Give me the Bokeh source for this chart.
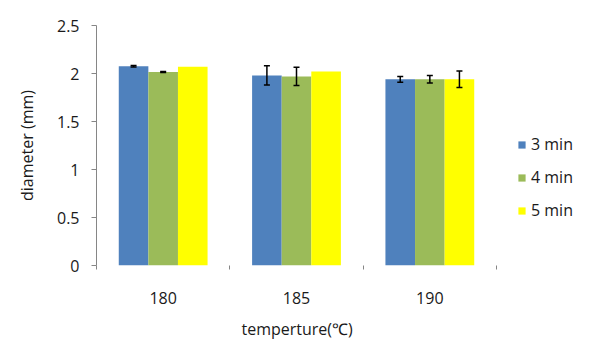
from bokeh.plotting import figure
from bokeh.models import (ColumnDataSource, Range1d, FixedTicker, CustomJSTickFormatter,
                          Whisker, TeeHead, Legend, LegendItem, Title)
from bokeh.transform import dodge
from bokeh.embed import file_html
from bokeh.resources import INLINE

categories = ["180", "185", "190"]
series = ["3 min", "4 min", "5 min"]
colors = ["#4f81bd", "#9bbb59", "#ffff00"]
vals_3min = [2.075, 1.98, 1.94]
vals_4min = [2.015, 1.97, 1.94]
vals_5min = [2.07, 2.02, 1.94]
err_3min = [0.008, 0.10, 0.03]
err_4min = [0.005, 0.095, 0.04]
err_5min = [0.0, 0.0, 0.085]
y_ticks = [0, 0.5, 1, 1.5, 2, 2.5]
x_title = "temperture(℃)"
y_title = "diameter (mm)"

FONT = "Open Sans"
TXT = "#1a1a1a"
AX = "#868686"

values = [vals_3min, vals_4min, vals_5min]
errors = [err_3min, err_4min, err_5min]
centers = [i + 0.5 for i in range(len(categories))]
bar_w = 0.222
offsets = [-bar_w, 0.0, bar_w]

# frame spans to the right edge so the legend can sit beside the categories;
# the category part occupies 400 of the 504 px
x_end = len(categories) * 504 / 400

p = figure(width=600, height=348, output_backend="svg", toolbar_location=None,
           x_range=Range1d(0, x_end), y_range=Range1d(0, 2.5),
           min_border_left=96, min_border_right=0, min_border_top=25, min_border_bottom=78)
p.outline_line_color = None
p.xgrid.grid_line_color = None
p.ygrid.grid_line_color = None
p.background_fill_color = "white"
p.border_fill_color = "white"

items = []
for s, col, v, e, off in zip(series, colors, values, errors, offsets):
    src = ColumnDataSource(dict(x=centers, top=v, cat=categories))
    r = p.vbar(x=dodge("x", off), top="top", width=bar_w, source=src,
               fill_color=col, line_color=None)
    items.append(LegendItem(label=s, renderers=[r]))
    keep = [i for i, ee in enumerate(e) if ee > 0]
    if keep:
        wsrc = ColumnDataSource(dict(
            x=[centers[i] for i in keep],
            upper=[v[i] + e[i] for i in keep],
            lower=[v[i] - e[i] for i in keep]))
        w = Whisker(source=wsrc, base=dodge("x", off), upper="upper", lower="lower",
                    line_color="black", line_width=1.5, level="annotation",
                    upper_head=TeeHead(size=6, line_color="black", line_width=1.5),
                    lower_head=TeeHead(size=6, line_color="black", line_width=1.5))
        p.add_layout(w)

# x axis
xa = p.xaxis[0]
xa.ticker = FixedTicker(ticks=centers, minor_ticks=list(range(len(categories) + 1)))
xa.major_label_overrides = {c: lab for c, lab in zip(centers, categories)}
xa.major_tick_line_color = None
xa.major_tick_out = 0
xa.major_tick_in = 0
xa.minor_tick_line_color = AX
xa.minor_tick_out = 4
xa.minor_tick_in = 0
xa.axis_line_color = None
xa.major_label_standoff = 22
xa.major_label_text_font = FONT
xa.major_label_text_font_size = "16px"
xa.major_label_text_color = TXT

# x title under the category span (frame also holds the legend area)
p.add_layout(Title(text=x_title, align="left", offset=145, standoff=18,
                   text_font=FONT, text_font_size="16px", text_font_style="normal",
                   text_color=TXT), "below")

ya = p.yaxis[0]
ya.ticker = FixedTicker(ticks=y_ticks, minor_ticks=[])
ya.formatter = CustomJSTickFormatter(code="return tick.toString();")
ya.axis_line_color = AX
ya.major_tick_line_color = AX
ya.major_tick_out = 5
ya.major_tick_in = 0
ya.minor_tick_line_color = None
ya.major_label_standoff = 12
ya.major_label_text_font = FONT
ya.major_label_text_font_size = "16px"
ya.major_label_text_color = TXT
ya.axis_label = y_title
ya.axis_label_text_font = FONT
ya.axis_label_text_font_size = "16px"
ya.axis_label_text_font_style = "normal"
ya.axis_label_text_color = TXT
ya.axis_label_standoff = 16

legend = Legend(items=items, location=(421, 44), glyph_width=9, glyph_height=9,
                label_standoff=5, spacing=11, padding=0, margin=0,
                label_text_font=FONT, label_text_font_size="16px",
                label_text_color=TXT, label_height=20,
                border_line_color=None, background_fill_alpha=0)
p.add_layout(legend)

open("out.html", "w").write(file_html(p, INLINE))
